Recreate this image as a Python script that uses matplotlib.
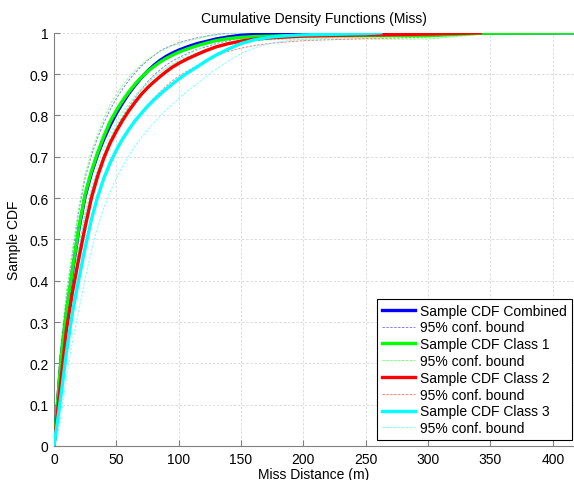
import numpy as np
import matplotlib
matplotlib.use("Agg")
import matplotlib.pyplot as plt

plt.rcParams['font.family'] = ['Liberation Sans', 'DejaVu Sans']

nan = np.nan

# miss distance grid (m)
miss_dist = [0, 3, 6, 10, 15, 20, 25, 30, 35, 40,
             45, 50, 55, 60, 65, 70, 75, 80, 85, 90,
             95, 100, 107, 115, 122, 130, 140, 150, 162, 175,
             187, 200, 250, 262, 300, 342, 417]

# sample CDFs
cdf_combined = [0, .108, .22, .32, .425, .525, .605, .66, .705, .743,
                .776, .805, .83, .853, .873, .891, .907, .921, .933, .943,
                .951, .958, .966, .974, .979, .985, .99, .994, .996, .997,
                .998, .998, .999, .999, .999, .9995, 1]
cdf_class1 = [0, .11, .22, .325, .43, .53, .61, .665, .71, .75,
              .785, .812, .836, .857, .876, .892, .906, .918, .929, .938,
              .946, .953, .961, .969, .975, .981, .986, .989, .991, .992,
              .993, .993, .993, .993, .993, .999, 1]
cdf_class2 = [0, .086, .17, .281, .375, .455, .53, .6, .653, .697,
              .733, .762, .788, .811, .832, .851, .867, .881, .894, .906,
              .917, .926, .937, .948, .957, .966, .974, .98, .985, .988,
              .99, .992, .995, .995, .997, 1, nan]
cdf_class3 = [0, .063, .13, .227, .326, .405, .48, .548, .603, .648,
              .685, .716, .743, .766, .787, .805, .822, .837, .851, .864,
              .876, .888, .903, .918, .932, .946, .961, .974, .984, .99,
              .993, .995, .998, 1, nan, nan, nan]

# 95% confidence bounds
lo_combined = [0, .08, .183, .278, .381, .48, .561, .617, .664, .704,
               .738, .769, .796, .821, .843, .863, .881, .897, .91, .922,
               .932, .94, .95, .96, .966, .974, .981, .987, .99, .992,
               .994, .994, .996, .996, .996, .9975, 1]
hi_combined = [0, .136, .257, .362, .469, .57, .649, .703, .746, .782,
               .814, .841, .864, .885, .903, .919, .933, .945, .956, .964,
               .97, .976, .982, .988, .992, .996, .999, 1, 1, 1,
               1, 1, 1, 1, 1, 1, 1]
lo_class1 = [0, .079, .179, .278, .38, .48, .561, .618, .665, .707,
             .744, .773, .799, .822, .843, .861, .877, .891, .903, .914,
             .923, .932, .942, .952, .959, .967, .974, .979, .982, .983,
             .985, .985, .985, .985, .985, .996, 1]
hi_class1 = [0, .141, .261, .372, .48, .58, .659, .712, .755, .793,
             .826, .851, .873, .892, .909, .923, .935, .945, .955, .962,
             .969, .974, .98, .986, .991, .995, .998, .999, 1, 1,
             1, 1, 1, 1, 1, 1, 1]
lo_class2 = [0, .052, .125, .227, .317, .395, .47, .541, .596, .642,
             .68, .711, .739, .764, .787, .808, .826, .842, .857, .871,
             .884, .895, .908, .921, .933, .944, .955, .963, .97, .975,
             .978, .981, .986, .986, .99, 1, nan]
hi_class2 = [0, .12, .215, .335, .433, .515, .59, .659, .71, .752,
             .786, .813, .837, .858, .877, .894, .908, .92, .931, .941,
             .95, .957, .966, .975, .981, .988, .993, .997, 1, 1,
             1, 1, 1, 1, 1, 1, nan]
lo_class3 = [0, .027, .08, .164, .256, .331, .405, .473, .53, .576,
             .615, .648, .677, .703, .726, .746, .765, .782, .798, .813,
             .827, .841, .859, .877, .894, .912, .932, .95, .965, .975,
             .981, .984, .991, 1, nan, nan, nan]
hi_class3 = [0, .099, .18, .29, .396, .479, .555, .623, .676, .72,
             .755, .784, .809, .829, .848, .864, .879, .892, .904, .915,
             .925, .935, .947, .959, .97, .98, .99, .998, 1, 1,
             1, 1, 1, 1, nan, nan, nan]

series = [
    ("Sample CDF Combined", cdf_combined, lo_combined, hi_combined, (0, 0, 1), "#8080ff"),
    ("Sample CDF Class 1", cdf_class1, lo_class1, hi_class1, (0, 1, 0), "#80ff80"),
    ("Sample CDF Class 2", cdf_class2, lo_class2, hi_class2, (1, 0, 0), "#ff8080"),
    ("Sample CDF Class 3", cdf_class3, lo_class3, hi_class3, (0, 1, 1), "#80ffff"),
]

fig = plt.figure(figsize=(5.74, 4.81), dpi=100)
ax = fig.add_axes([0.094, 0.0707, 0.906, 0.859])

dash = (0, (2.5, 1.5))
for label, cdf, lo, hi, col, light in series:
    ax.plot(miss_dist, cdf, color=col, lw=2.4, label=label, zorder=3)
    ax.plot(miss_dist, lo, color=light, lw=0.7, ls=dash, label="95% conf. bound", zorder=2)
    ax.plot(miss_dist, hi, color=light, lw=0.7, ls=dash, zorder=2)

ax.set_xlim(0, 417)
ax.set_ylim(0, 1)
ax.set_xticks(np.arange(0, 401, 50))
ax.set_yticks(np.arange(0, 1.01, 0.1))
ax.set_yticklabels(["0", "0.1", "0.2", "0.3", "0.4", "0.5", "0.6", "0.7", "0.8", "0.9", "1"])
ax.grid(True, color="#d8d8d8", ls=(0, (3, 2)), lw=0.6)
ax.set_axisbelow(True)
ax.tick_params(direction="in", length=4, labelsize=10, color="#808080", pad=4)
for s in ("top", "right"):
    ax.spines[s].set_visible(False)
for s in ("left", "bottom"):
    ax.spines[s].set_color("#808080")

ax.set_title("Cumulative Density Functions (Miss)", fontsize=10, pad=8)
ax.set_xlabel("Miss Distance (m)", fontsize=10, labelpad=1)
ax.set_ylabel("Sample CDF", fontsize=10, labelpad=6)

leg = ax.legend(loc="lower right", bbox_to_anchor=(0.996, 0.0145), fontsize=10,
                fancybox=False, framealpha=1, edgecolor="black", borderaxespad=0,
                handlelength=2.4, handletextpad=0.35, labelspacing=0.2, borderpad=0.35)
leg.get_frame().set_linewidth(0.8)

fig.savefig("out.png", dpi=100)
